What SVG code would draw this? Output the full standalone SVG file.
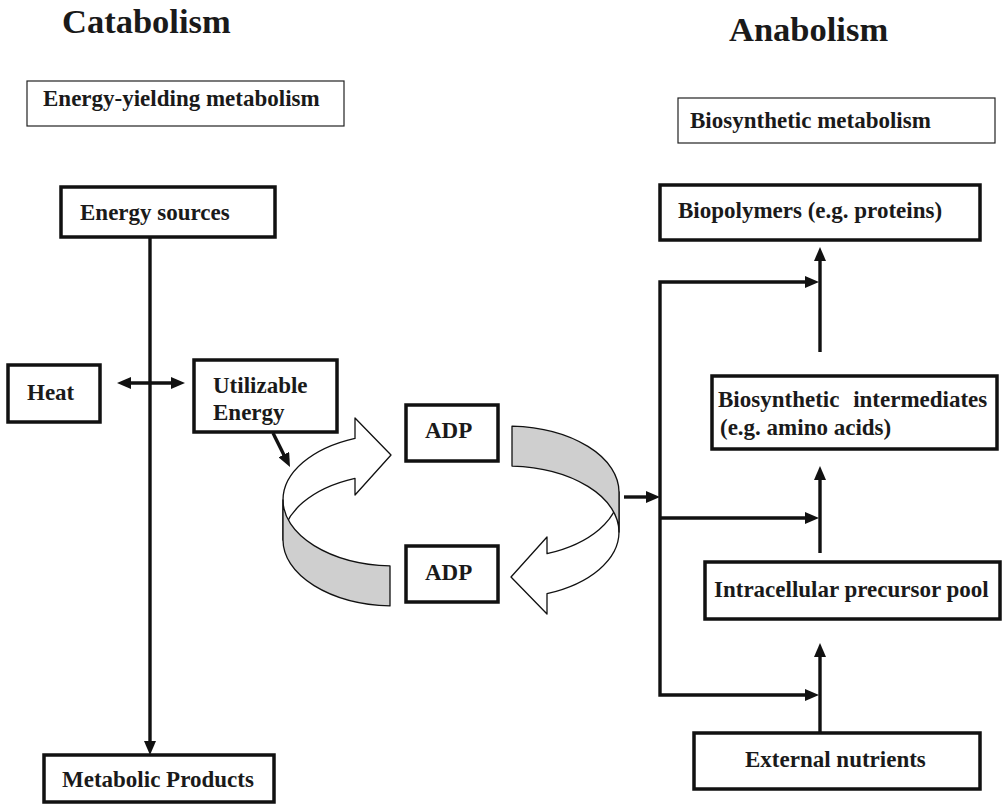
<svg xmlns="http://www.w3.org/2000/svg" width="1003" height="804" viewBox="0 0 1003 804">
<style>
text{font-family:"Liberation Serif","Times New Roman",serif;font-weight:bold;fill:#1a1a1a}
.lbl{font-size:23px}
.ttl{font-size:34.5px}
.thick{fill:#fff;stroke:#111;stroke-width:3.5}
.thin{fill:#fff;stroke:#222;stroke-width:1.2}
.con{fill:none;stroke:#111;stroke-width:3.4}
.rib{stroke:#111;stroke-width:1.3;stroke-linejoin:round}
</style>
<defs>
<marker id="ah" viewBox="0 0 14 12" markerWidth="14" markerHeight="12" refX="1" refY="6" orient="auto-start-reverse" markerUnits="userSpaceOnUse">
<path d="M0,0 L14,6 L0,12 Z" fill="#111"/>
</marker>
<g id="ribbon">
<path class="rib" fill="#fff" d="M355,438.4 A112,66 0 0 0 283,500 L283,540 A112,66 0 0 1 355,478.4 L355,495 L391,455 L355,418 Z"/>
<path class="rib" fill="#cfcfcf" d="M283,500 A112,66 0 0 0 390,565.9 L390,605.9 A112,66 0 0 1 283,540 Z"/>
</g>
</defs>
<rect width="1003" height="804" fill="#fff"/>

<g id="titles">
<text class="ttl" x="62" y="33">Catabolism</text>
<text class="ttl" x="729" y="41">Anabolism</text>
</g>

<g id="energy-yielding">
<rect class="thin" x="27" y="81" width="317" height="45"/>
<text class="lbl" x="43" y="106">Energy-yielding metabolism</text>
</g>
<g id="biosynthetic-metabolism">
<rect class="thin" x="678" y="98" width="317" height="45"/>
<text class="lbl" x="690" y="128">Biosynthetic metabolism</text>
</g>

<g id="energy-sources">
<rect class="thick" x="61" y="187" width="214" height="50"/>
<text class="lbl" x="80" y="220">Energy sources</text>
</g>
<g id="heat">
<rect class="thick" x="8" y="365" width="92" height="57"/>
<text class="lbl" x="27" y="400">Heat</text>
</g>
<g id="utilizable-energy">
<rect class="thick" x="194" y="360" width="143" height="72"/>
<text class="lbl" x="213" y="393">Utilizable</text>
<text class="lbl" x="213" y="420">Energy</text>
</g>
<g id="metabolic-products">
<rect class="thick" x="44" y="755" width="230" height="47"/>
<text class="lbl" x="62" y="787">Metabolic Products</text>
</g>

<g id="adp-top">
<rect class="thick" x="406" y="405" width="92" height="56"/>
<text class="lbl" x="425" y="438">ADP</text>
</g>
<g id="adp-bottom">
<rect class="thick" x="406" y="546" width="92" height="56"/>
<text class="lbl" x="425" y="580">ADP</text>
</g>

<g id="cycle-left"><use href="#ribbon"/></g>
<g id="cycle-right"><use href="#ribbon" transform="rotate(180 451 516)"/></g>

<g id="biopolymers">
<rect class="thick" x="660" y="185" width="320" height="55"/>
<text class="lbl" x="678" y="218">Biopolymers (e.g. proteins)</text>
</g>
<g id="biosynthetic-intermediates">
<rect class="thick" x="712" y="376" width="285" height="73"/>
<text class="lbl" x="718" y="407" word-spacing="8">Biosynthetic intermediates</text>
<text class="lbl" x="720" y="435">(e.g. amino acids)</text>
</g>
<g id="precursor-pool">
<rect class="thick" x="705" y="562" width="295" height="57"/>
<text class="lbl" x="714" y="597">Intracellular precursor pool</text>
</g>
<g id="external-nutrients">
<rect class="thick" x="694" y="733" width="286" height="56"/>
<text class="lbl" x="745" y="767">External nutrients</text>
</g>

<g id="connectors">
<line class="con" x1="150" y1="237" x2="150" y2="742" marker-end="url(#ah)"/>
<line class="con" x1="130" y1="383" x2="172" y2="383" marker-start="url(#ah)" marker-end="url(#ah)"/>
<line class="con" x1="273" y1="433" x2="284.2" y2="455.4" marker-end="url(#ah)"/>
<line class="con" x1="624" y1="497" x2="647" y2="497" marker-end="url(#ah)"/>
<path class="con" d="M806,282 L660,282 L660,695 L806,695" marker-start="url(#ah)" marker-end="url(#ah)"/>
<line class="con" x1="660" y1="518" x2="806" y2="518" marker-end="url(#ah)"/>
<line class="con" x1="820" y1="352" x2="820" y2="260" marker-end="url(#ah)"/>
<line class="con" x1="820" y1="553" x2="820" y2="479" marker-end="url(#ah)"/>
<line class="con" x1="820" y1="733" x2="820" y2="656" marker-end="url(#ah)"/>
</g>
</svg>
